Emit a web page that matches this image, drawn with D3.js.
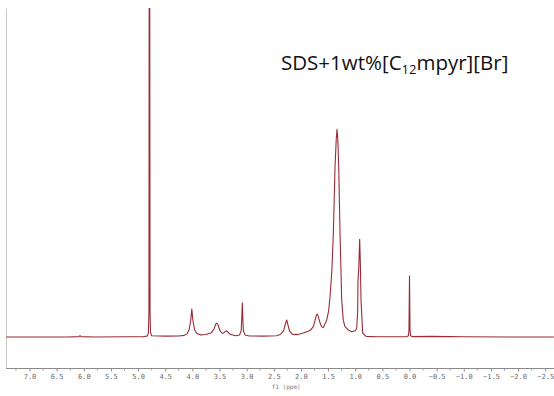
<!DOCTYPE html>
<html>
<head>
<meta charset="utf-8">
<script src="https://cdn.jsdelivr.net/npm/d3@7/dist/d3.min.js"></script>
<style>
  html, body { margin: 0; padding: 0; background: #fff; }
  svg { display: block; }
</style>
</head>
<body>
<svg id="chart" width="554" height="396"></svg>
<script>
// 1H NMR spectrum, chemical shift (ppm) and relative intensity (tallest alkyl peak = 100)
const shift = [
  7.43, 6.30, 6.09, 6.07, 6.05, 5.80, 5.20, 4.90, 4.83, 4.81, 4.80, 4.795, 4.785, 4.78, 4.77, 4.75,
  4.50, 4.25, 4.15, 4.10, 4.06, 4.03, 4.01, 3.99, 3.96, 3.92, 3.85, 3.75, 3.65, 3.60, 3.57, 3.55,
  3.53, 3.49, 3.45, 3.42, 3.39, 3.37, 3.35, 3.30, 3.20, 3.13, 3.10, 3.09, 3.08, 3.07, 3.06, 3.03,
  2.95, 2.70, 2.45, 2.38, 2.32, 2.29, 2.262, 2.24, 2.21, 2.16, 2.11, 2.09, 2.07, 1.956, 1.87, 1.82,
  1.772, 1.74, 1.715, 1.698, 1.68, 1.65, 1.62, 1.587, 1.525, 1.49, 1.464, 1.43, 1.403, 1.372, 1.35,
  1.335, 1.32, 1.304, 1.28, 1.249, 1.22, 1.188, 1.12, 1.065, 1.00, 0.973, 0.955, 0.949, 0.935,
  0.918, 0.905, 0.893, 0.862, 0.80, 0.60, 0.30, 0.05, 0.02, 0.01, 0.0, -0.01, -0.02, -0.05, -0.40,
  -1.00, -2.00, -2.66
];
const intensity = [
  0.0, 0.0, 0.2, 0.7, 0.2, 0.0, 0.1, 0.2, 0.5, 2.0, 12.0, 170, 170, 12.0, 2.0, 0.6,
  0.4, 0.5, 0.8, 1.5, 3.5, 8.0, 13.5, 8.0, 3.5, 1.8, 1.0, 1.2, 2.0, 4.0, 6.2, 6.7,
  6.0, 3.0, 1.8, 2.0, 2.8, 2.9, 2.5, 1.2, 0.6, 1.0, 3.0, 9.0, 16.5, 9.0, 3.0, 1.0,
  0.5, 0.4, 0.6, 1.2, 3.0, 6.0, 8.2, 6.0, 2.8, 1.4, 1.1, 1.4, 1.1, 1.9, 2.8, 3.4,
  5.0, 8.0, 10.6, 11.0, 9.8, 7.0, 5.0, 4.5, 8.2, 12.5, 19.4, 32.0, 49.8, 81.9, 95.0,
  100, 95.0, 81.9, 50.0, 17.8, 8.0, 5.0, 3.2, 2.5, 3.0, 4.2, 12.0, 27.4, 33.0,
  47.0, 35.0, 17.8, 1.8, 0.3, 0.1, 0.1, 0.2, 0.6, 3.0, 29.3, 3.0, 0.6, 0.2, 0.3,
  0.1, 0.0, 0.0
];
const tickValues = [7.0, 6.5, 6.0, 5.5, 5.0, 4.5, 4.0, 3.5, 3.0, 2.5, 2.0, 1.5, 1.0, 0.5, 0.0,
                    -0.5, -1.0, -1.5, -2.0, -2.5];
const minorTicks = [7.25, 6.75, 6.25, 5.75, 5.25, 4.75, 4.25, 3.75, 3.25, 2.75, 2.25, 1.75, 1.25,
                    0.75, 0.25, -0.25, -0.75, -1.25, -1.75, -2.25];
const axisTitle = "f1 (ppm)";
const sampleLabel = ["SDS+1wt%[C", "12", "mpyr][Br]"];

const svg = d3.select("#chart");
const frame = { left: 6, right: 554, top: 9, axisY: 368 };

// chemical shift axis runs right-to-left
const x = d3.scaleLinear().domain([7.0, 0.0]).range([29.5, 409.5]);
const y = d3.scaleLinear().domain([0, 100]).range([337, 129.3]);

const points = shift.map((s, i) => ({ s, v: intensity[i] }));

svg.append("clipPath").attr("id", "plotClip")
  .append("rect")
  .attr("x", frame.left).attr("y", 8)
  .attr("width", frame.right - frame.left).attr("height", frame.axisY - 8);

// left frame edge
svg.append("line")
  .attr("x1", frame.left + 0.5).attr("x2", frame.left + 0.5)
  .attr("y1", frame.top).attr("y2", frame.axisY)
  .attr("stroke", "#c8c8c8").attr("stroke-width", 1);

// spectrum trace
svg.append("path")
  .datum(points)
  .attr("clip-path", "url(#plotClip)")
  .attr("fill", "none")
  .attr("stroke", "#9a2b35")
  .attr("stroke-width", 1.1)
  .attr("stroke-linejoin", "round")
  .attr("d", d3.line().x(d => x(d.s)).y(d => y(d.v)));

// bottom axis with major labelled ticks
const axis = d3.axisBottom(x)
  .tickValues(tickValues)
  .tickSize(3)
  .tickSizeOuter(0)
  .tickFormat(d3.format(".1f"));

const gAxis = svg.append("g")
  .attr("transform", `translate(0,${frame.axisY + 0.5})`)
  .call(axis);

gAxis.select(".domain").remove();
gAxis.append("line")
  .attr("x1", frame.left).attr("x2", frame.right)
  .attr("stroke", "#8a8a8a");
gAxis.selectAll(".tick line").attr("stroke", "#8a8a8a");
gAxis.selectAll(".tick text")
  .attr("y", 6)
  .attr("fill", "#6a6a6a")
  .style("font-family", "'DejaVu Sans Mono', monospace")
  .style("font-size", "7px")
  .text(d => d.toFixed(1).replace("-", "\u2212"));

// minor ticks
gAxis.selectAll(".minor")
  .data(minorTicks)
  .join("line")
  .attr("class", "minor")
  .attr("x1", d => x(d)).attr("x2", d => x(d))
  .attr("y1", 0).attr("y2", 2)
  .attr("stroke", "#9a9a9a");

svg.append("text")
  .attr("x", x(2.5) - 2).attr("y", 389)
  .attr("fill", "#7a7a7a")
  .style("font-family", "'DejaVu Sans Mono', monospace")
  .style("font-size", "6px")
  .text(axisTitle);

// sample label with subscript
const label = svg.append("text")
  .attr("x", 281).attr("y", 70)
  .attr("fill", "#111")
  .style("font-family", "'Open Sans', sans-serif")
  .style("font-size", "20.5px");
label.append("tspan").text(sampleLabel[0]);
label.append("tspan").attr("dy", 4).style("font-size", "13px").text(sampleLabel[1]);
label.append("tspan").attr("dy", -4).text(sampleLabel[2]);
</script>
</body>
</html>
